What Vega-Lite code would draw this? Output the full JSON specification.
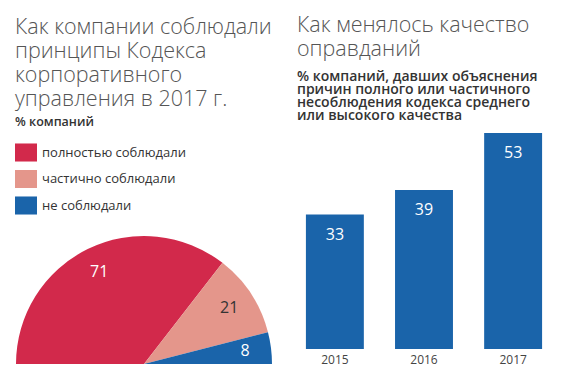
{
  "$schema": "https://vega.github.io/schema/vega-lite/v6.json",
  "padding": {"left": 15, "top": 14, "right": 0, "bottom": 6},
  "background": "white",
  "spacing": 24,
  "bounds": "flush",
  "config": {"view": {"stroke": null}, "font": "Open Sans"},
  "hconcat": [
    {
      "width": 258,
      "height": 231,
      "title": {
        "text": ["Как компании соблюдали", "принципы Кодекса", "корпоративного", "управления в 2017 г."],
        "anchor": "start",
        "fontSize": 21.5,
        "fontWeight": 300,
        "lineHeight": 24,
        "color": "#555555",
        "offset": 23
      },
      "data": {
        "values": [
          {"category": "полностью соблюдали", "share": 71, "ord": 1},
          {"category": "частично соблюдали", "share": 21, "ord": 2},
          {"category": "не соблюдали", "share": 8, "ord": 3}
        ]
      },
      "encoding": {
        "theta": {"field": "share", "type": "quantitative", "stack": true, "scale": {"range": [-1.5708, 1.5708]}},
        "order": {"field": "ord", "type": "quantitative"},
        "y": {"value": "height"}
      },
      "layer": [
        {
          "mark": {"type": "arc", "radius": 128},
          "encoding": {
            "color": {
              "field": "category",
              "type": "nominal",
              "sort": null,
              "scale": {
                "domain": ["полностью соблюдали", "частично соблюдали", "не соблюдали"],
                "range": ["#D2294B", "#E4968B", "#1A64AA"]
              },
              "legend": {
                "title": "% компаний",
                "orient": "none",
                "legendX": 0,
                "legendY": -17,
                "titleFontSize": 12.5,
                "titleFontWeight": 600,
                "titleColor": "#333333",
                "titlePadding": 13,
                "labelFontSize": 13,
                "labelColor": "#333333",
                "symbolType": "M-1,-0.82H1V0.82H-1Z",
                "symbolSize": 484,
                "symbolStrokeWidth": 0,
                "symbolOpacity": 1,
                "rowPadding": 5.5,
                "labelOffset": 5,
                "padding": 0,
                "offset": 0
              }
            }
          }
        },
        {
          "mark": {"type": "text", "radius": 102, "fontSize": 16},
          "encoding": {
            "text": {"field": "share", "type": "quantitative"},
            "color": {
              "condition": {"test": "datum.category == 'частично соблюдали'", "value": "#333333"},
              "value": "white"
            }
          }
        }
      ]
    },
    {
      "width": 254,
      "height": 216,
      "title": {
        "text": ["Как менялось качество", "оправданий"],
        "subtitle": ["% компаний, давших объяснения", "причин полного или частичного", "несоблюдения кодекса среднего", "или высокого качества"],
        "anchor": "start",
        "fontSize": 21.5,
        "fontWeight": 300,
        "lineHeight": 24,
        "color": "#555555",
        "subtitleFontSize": 14,
        "subtitleFontWeight": 600,
        "subtitleLineHeight": 13,
        "subtitleColor": "#333333",
        "subtitlePadding": 10,
        "offset": 10
      },
      "data": {
        "values": [
          {"year": "2015", "value": 33},
          {"year": "2016", "value": 39},
          {"year": "2017", "value": 53}
        ]
      },
      "encoding": {
        "x": {
          "field": "year",
          "type": "ordinal",
          "scale": {"paddingInner": 0.35, "paddingOuter": 0.1},
          "axis": {"title": null, "labelAngle": 0, "domain": false, "ticks": false, "labelPadding": 5, "labelFontSize": 12, "labelColor": "#444444"}
        },
        "y": {"field": "value", "type": "quantitative", "scale": {"domain": [0, 53]}, "axis": null}
      },
      "layer": [
        {"mark": {"type": "bar", "color": "#1A64AA"}},
        {
          "mark": {"type": "text", "baseline": "middle", "dy": 20, "fontSize": 16, "color": "white"},
          "encoding": {"text": {"field": "value", "type": "quantitative"}}
        }
      ]
    }
  ]
}
